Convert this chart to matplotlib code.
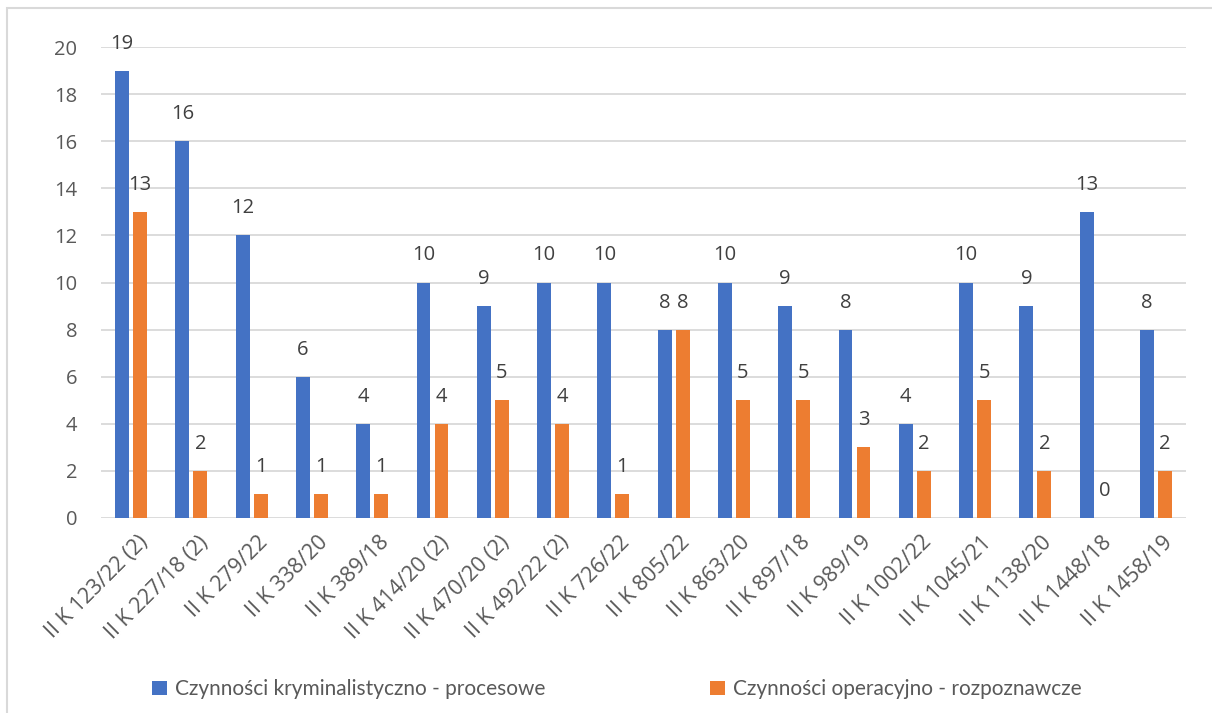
import matplotlib
matplotlib.use("Agg")
import matplotlib.pyplot as plt
import matplotlib.transforms as mtransforms
import numpy as np
from matplotlib.patches import Rectangle

# dane z wykresu
sprawy = ["II K 123/22 (2)", "II K 227/18 (2)", "II K 279/22", "II K 338/20",
          "II K 389/18", "II K 414/20 (2)", "II K 470/20 (2)", "II K 492/22 (2)",
          "II K 726/22", "II K 805/22", "II K 863/20", "II K 897/18",
          "II K 989/19", "II K 1002/22", "II K 1045/21", "II K 1138/20",
          "II K 1448/18", "II K 1458/19"]
kryminalistyczne = [19, 16, 12, 6, 4, 10, 9, 10, 10, 8, 10, 9, 8, 4, 10, 9, 13, 8]
operacyjne = [13, 2, 1, 1, 1, 4, 5, 4, 1, 8, 5, 5, 3, 2, 5, 2, 0, 2]
serie = ["Czynności kryminalistyczno - procesowe", "Czynności operacyjno - rozpoznawcze"]
y_ticks = [0, 2, 4, 6, 8, 10, 12, 14, 16, 18, 20]

plt.rcParams['font.family'] = ['Open Sans', 'DejaVu Sans']
txt = '#595959'
blue = '#4472C4'
orange = '#ED7D31'
fs = 14.5

fig = plt.figure(figsize=(12.12, 7.13), dpi=100)
ax = fig.add_axes([0.0833, 0.2735, 0.8953, 0.6605])

x = np.arange(len(sprawy))
w = 0.23
b1 = ax.bar(x - 0.15, kryminalistyczne, w, color=blue, label=serie[0], zorder=3)
b2 = ax.bar(x + 0.15, operacyjne, w, color=orange, label=serie[1], zorder=3)

for bars, vals in ((b1, kryminalistyczne), (b2, operacyjne)):
    for r, v in zip(bars, vals):
        ax.annotate(str(v), (r.get_x() + r.get_width() / 2, v), xytext=(0, 19.5),
                    textcoords='offset points', ha='center', va='center',
                    fontsize=fs, color='#404040', clip_on=False, zorder=4)

ax.set_xlim(-0.5, len(sprawy) - 0.5)
ax.set_ylim(0, 20)
ax.set_yticks(y_ticks)
ax.yaxis.grid(True, color='#D9D9D9', lw=1.3, zorder=0)
for s in ax.spines.values():
    s.set_visible(False)
ax.tick_params(axis='both', length=0, labelsize=fs, colors=txt)
ax.tick_params(axis='y', pad=17)
ax.set_xticks(x)
ax.set_xticklabels(sprawy, rotation=45, ha='right', rotation_mode='anchor',
                   fontsize=15.5)
ax.tick_params(axis='x', pad=10)
shift = mtransforms.ScaledTranslation(6 / 100, 0, fig.dpi_scale_trans)
for lab in ax.get_xticklabels():
    lab.set_transform(lab.get_transform() + shift)

fig.legend(handles=[b1, b2], loc='center', bbox_to_anchor=(0.509, 0.033), ncol=2,
           frameon=False, prop={'family': 'Lato', 'size': 15}, labelcolor=txt,
           handlelength=0.7, handleheight=0.7, handletextpad=0.4, columnspacing=7.9)

fig.patches.append(Rectangle((7 / 1212, -0.1), 1.2, 1 - 8 / 713 + 0.1,
                             transform=fig.transFigure, fill=False,
                             edgecolor='#D9D9D9', lw=1.5))

fig.savefig('out.png', dpi=100)
